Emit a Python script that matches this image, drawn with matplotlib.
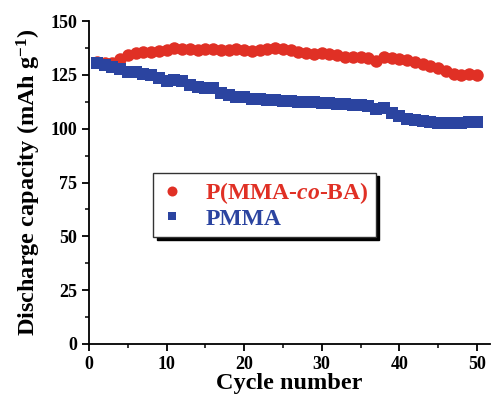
import matplotlib
matplotlib.use("Agg")
import matplotlib.pyplot as plt
from matplotlib.ticker import MultipleLocator

plt.rcParams["font.family"] = ["Liberation Serif", "DejaVu Serif"]
plt.rcParams["font.weight"] = "bold"
plt.rcParams["mathtext.fontset"] = "custom"
plt.rcParams["mathtext.rm"] = "Liberation Serif:bold"
plt.rcParams["mathtext.it"] = "Liberation Serif:italic:bold"
plt.rcParams["mathtext.bf"] = "Liberation Serif:bold"

cycles = list(range(1, 51))
copolymer = [131, 130.5, 130.5, 132.5, 134, 135, 135.5, 135.5, 136, 136.5,
             137.5, 137, 137, 136.5, 137, 137, 136.5, 136.5, 137, 136.5,
             136, 136.5, 137, 137.5, 137, 136.5, 135.5, 135, 134.5, 135,
             134.5, 134, 133.5, 133.5, 133.5, 133, 131.5, 133.5, 133, 132.5,
             132, 131, 130, 129, 128, 127, 125.5, 125, 125.5, 125]
pmma = [130.5, 129.5, 128.5, 127.5, 126.5, 126.5, 125.5, 125, 123.5, 122,
        122.5, 122, 120.5, 119.5, 119, 119, 116.5, 115.5, 114.5, 114.5,
        114, 114, 113.5, 113.5, 113, 113, 112.5, 112.5, 112.5, 112,
        112, 111.5, 111.5, 111, 111, 110.5, 109, 109.5, 107.5, 106,
        104.5, 104, 103.5, 103, 102.5, 102.5, 102.5, 102.5, 103, 103]

red = "#e03025"
blue = "#2b44a0"

fig = plt.figure(figsize=(4.92, 4.0), dpi=100)
ax = fig.add_axes([0.181, 0.14, 0.815, 0.8075])

ax.plot(cycles, copolymer, "o", color=red, markersize=9, markeredgewidth=0,
        label="P(MMA-$\\mathit{co}$-BA)")
ax.plot(cycles, pmma, "s", color=blue, markersize=8, markeredgewidth=0,
        label="PMMA")

ax.set_xlim(0, 51.7)
ax.set_ylim(0, 150)
ax.xaxis.set_major_locator(MultipleLocator(10))
ax.xaxis.set_minor_locator(MultipleLocator(5))
ax.yaxis.set_major_locator(MultipleLocator(25))
ax.yaxis.set_minor_locator(MultipleLocator(12.5))
ax.spines["top"].set_visible(False)
ax.spines["right"].set_visible(False)
for s in ("left", "bottom"):
    ax.spines[s].set_linewidth(1.3)
ax.tick_params(which="major", direction="out", length=5, width=1.3, labelsize=13)
ax.tick_params(which="minor", direction="out", length=3, width=1.1)
for lab in ax.get_xticklabels() + ax.get_yticklabels():
    lab.set_fontweight("bold")

ax.set_xlabel("Cycle number", fontsize=17.5, fontweight="bold", labelpad=0)
ax.set_ylabel("Discharge capacity (mAh g$\\mathregular{^{-1}}$)", fontsize=17.5,
              fontweight="bold", labelpad=5)

leg = ax.legend(loc="upper left", bbox_to_anchor=(0.16, 0.53),
                borderaxespad=0, frameon=True, fancybox=False,
                shadow={"color": "black", "alpha": 1, "ox": 2.5, "oy": -2.5},
                markerscale=0.8, handlelength=1.0, handletextpad=0.9,
                borderpad=0.3, labelspacing=0.1,
                prop={"weight": "bold", "size": 17})
leg.get_frame().set_edgecolor("#333333")
leg.get_frame().set_linewidth(1.0)
for txt, c in zip(leg.get_texts(), (red, blue)):
    txt.set_color(c)

fig.savefig("out.png", dpi=100)
